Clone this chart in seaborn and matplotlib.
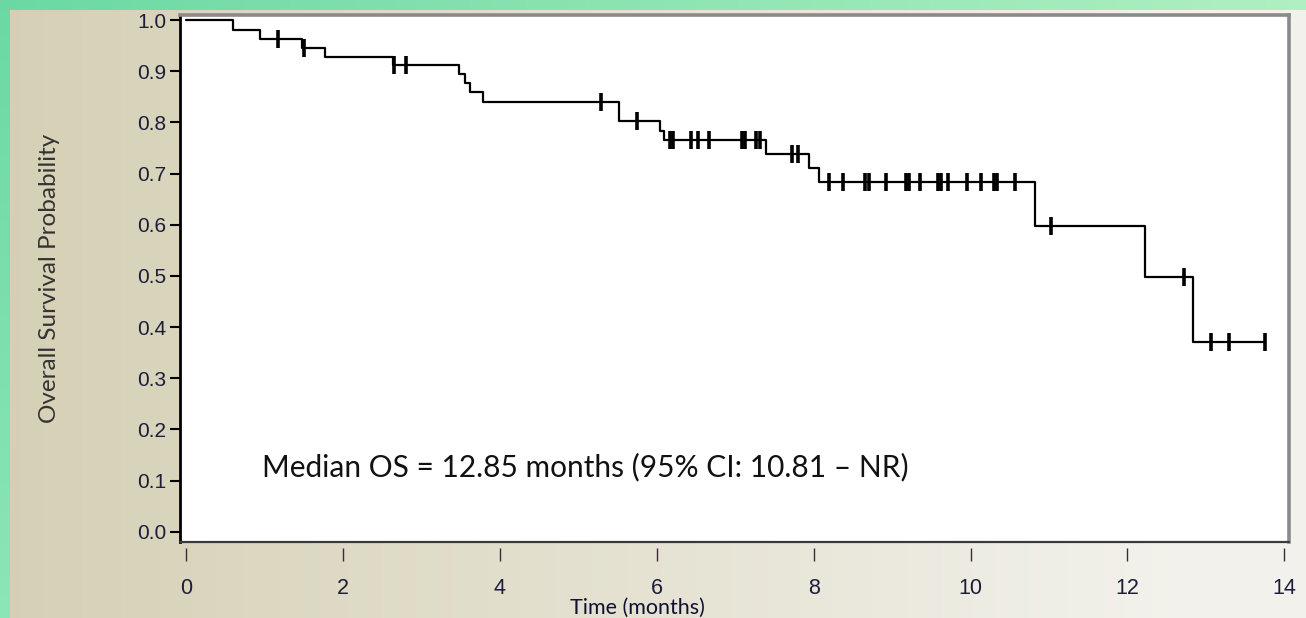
import numpy as np
import pandas as pd
import matplotlib
matplotlib.use("Agg")
import matplotlib.pyplot as plt
from matplotlib.lines import Line2D
import seaborn as sns

# ---- data ----
event_times = [0.0, 0.59, 0.94, 1.48, 1.77, 2.64, 3.48, 3.56, 3.62, 3.78,
               5.52, 6.04, 6.09, 7.39, 7.94, 8.07, 10.82, 12.22, 12.83]
survival = [1.0, 0.981, 0.963, 0.946, 0.928, 0.912, 0.894, 0.877, 0.859, 0.840,
            0.803, 0.783, 0.765, 0.738, 0.711, 0.684, 0.598, 0.498, 0.370]
last_followup = 13.75
censor_times = [1.17, 1.50, 2.65, 2.80, 5.29, 5.75, 6.17, 6.21, 6.44, 6.52, 6.66,
                7.09, 7.13, 7.26, 7.32, 7.72, 7.80, 8.20, 8.37, 8.66, 8.70, 8.92,
                9.18, 9.22, 9.36, 9.58, 9.62, 9.71, 9.95, 10.13, 10.30, 10.34,
                10.57, 11.03, 12.72, 13.07, 13.30, 13.75]
x_ticks = [0, 2, 4, 6, 8, 10, 12, 14]
y_ticks = [0.0, 0.1, 0.2, 0.3, 0.4, 0.5, 0.6, 0.7, 0.8, 0.9, 1.0]
median_text = "Median OS = 12.85 months (95% CI: 10.81 \u2013 NR)"
x_label = "Time (months)"
y_label = "Overall Survival Probability"

sns.set_theme(style="white")
plt.rcParams['font.family'] = ['Liberation Sans', 'DejaVu Sans']

W, H = 1306, 618
fig = plt.figure(figsize=(W / 100, H / 100), dpi=100)

# ---- background gradient (green frame + beige panel) ----
bg = fig.add_axes([0, 0, 1, 1], zorder=-10)
xs = np.linspace(0, 1, W)[None, :, None]
ys = np.linspace(0, 1, H)[:, None, None]
beige_l = np.array([0.835, 0.816, 0.710])
beige_r = np.array([0.953, 0.949, 0.925])
img = beige_l + (beige_r - beige_l) * np.clip(xs * 1.1, 0, 1)
img = np.broadcast_to(img, (H, W, 3)).copy()
green_l = np.array([0.42, 0.85, 0.64])
green_r = np.array([0.69, 0.94, 0.76])
top = green_l + (green_r - green_l) * xs[0]
img[:10, :, :] = top
left = np.array([0.42, 0.85, 0.64]) + (np.array([0.55, 0.90, 0.71]) - np.array([0.42, 0.85, 0.64])) * ys[:, 0]
img[:, :10, :] = left[:, None, :]
bg.imshow(img, aspect='auto', extent=[0, 1, 0, 1], origin='upper')
bg.set_axis_off()

# ---- main axes ----
ax = fig.add_axes([180 / W, 1 - 542 / H, (1289 - 180) / W, (542 - 15) / H])
ax.set_facecolor('white')

step_df = pd.DataFrame({
    "time": event_times + [last_followup],
    "surv": survival + [survival[-1]],
})
sns.lineplot(data=step_df, x="time", y="surv", drawstyle="steps-post",
             color="black", linewidth=1.6, estimator=None, sort=False, ax=ax)

idx = np.searchsorted(np.array(event_times), np.array(censor_times), side="right") - 1
cens_df = pd.DataFrame({"time": censor_times, "surv": np.array(survival)[idx]})
sns.scatterplot(data=cens_df, x="time", y="surv", marker="|", s=170,
                linewidth=2.6, color="black", ax=ax, zorder=5)

ax.set_xlim(-0.08, 14.06)
ax.set_ylim(-0.02, 1.01)
ax.set_xticks(x_ticks)
ax.set_yticks(y_ticks)
ax.set_yticklabels([f"{v:.1f}" for v in y_ticks])
ax.set_xlabel("")
ax.set_ylabel("")

# spines
ax.spines['left'].set_color('black')
ax.spines['left'].set_linewidth(2.0)
ax.spines['top'].set_color('#8a8a8a')
ax.spines['top'].set_linewidth(2.6)
ax.spines['right'].set_color('#8a8a8a')
ax.spines['right'].set_linewidth(2.6)
ax.spines['bottom'].set_position(('outward', 4))
ax.spines['bottom'].set_color('none')
ax.add_line(Line2D([0, 1], [0, 0], transform=ax.transAxes, color='#3a3a3a',
                   linewidth=1.6, clip_on=False, zorder=6))

ax.tick_params(axis='y', direction='out', length=7, width=1.5, color='black',
               labelsize=15, labelcolor='#1d1d3a', pad=3, left=True)
ax.tick_params(axis='x', direction='out', length=9, width=1.0, color='#3a2a3a',
               labelsize=15.5, labelcolor='#1d1d3a', pad=13, bottom=True)

ax.text(0.97, 0.127, median_text, fontsize=21.5, family=['Lato', 'DejaVu Sans'],
        color='#111111', va='center', ha='left')

fig.text(637 / W, 1 - 608 / H, x_label, fontsize=15.5, family=['Lato', 'DejaVu Sans'],
         color='#111133', ha='center', va='center')
fig.text(50 / W, 1 - 278 / H, y_label, fontsize=17.5, family=['Lato', 'DejaVu Sans'],
         color='#333333', rotation=90, ha='center', va='center')

fig.savefig("out.png", dpi=100)
